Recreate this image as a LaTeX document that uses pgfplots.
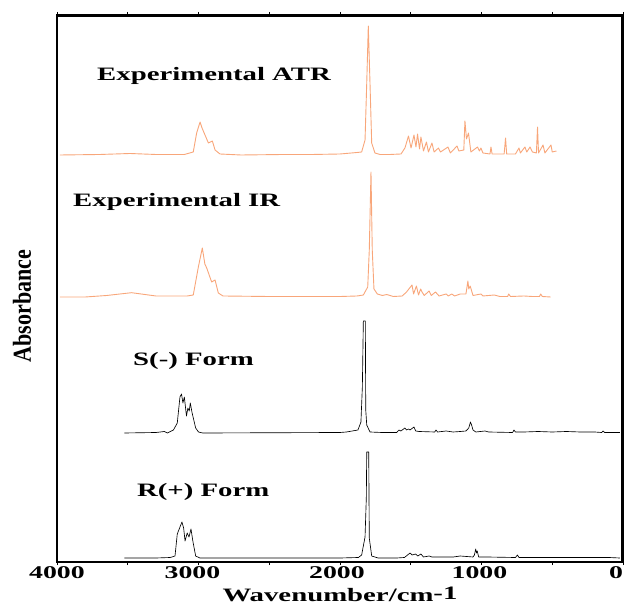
\documentclass[border=0pt]{standalone}
\usepackage{fontspec}
\setmainfont{Liberation Serif}
\usepackage{pgfplots}
\pgfplotsset{compat=1.18}
\definecolor{expOrange}{RGB}{248,166,122}

% stretched bold labels, as in the scanned figure
\newcommand{\lbl}[2][1.52]{\scalebox{#1}[1]{#2}}
% tick label, moved left by half of #1
\newcommand{\tl}[2]{\hbox to 0pt{\hss\lbl[1.55]{#2}\hss\hskip #1}}

\begin{document}
\begin{tikzpicture}
\begin{axis}[
  at={(0,0)}, anchor=south west,
  width=566bp, height=547bp, scale only axis,
  xmin=0, xmax=4000, x dir=reverse,
  ymin=0, ymax=547,
  ytick=\empty,
  xtick={0,1000,2000,3000,4000},
  xticklabels={\tl{14bp}{0},\tl{4bp}{1000},\tl{6bp}{2000},\tl{12bp}{3000},\tl{0bp}{4000}},
  minor xtick={500,1500,2500,3500},
  tick align=outside,
  major tick length=3bp, minor tick length=3bp,
  xtick style={black, line width=0.8bp},
  axis line style={black, line width=2.4bp},
  xticklabel style={font=\fontsize{18}{20}\selectfont\bfseries, inner sep=1bp},
  clip=false,
  every axis plot/.append style={line join=round},
]
% Experimental ATR, baseline offset 407
\addplot[expOrange, line width=0.9bp] table[row sep=\\, y expr=\thisrowno{1}+407] {
w h\\
3979 0\\ 3700 0.5\\ 3484 1.5\\ 3300 0.5\\ 3100 0.5\\ 3037 3\\ 3013 22\\
2989 33\\ 2975 27\\ 2954 20\\ 2930 12\\ 2902 14\\ 2883 5\\ 2848 1\\
2700 0\\ 2400 0.5\\ 2200 0.5\\ 2000 1\\ 1880 2.5\\ 1847 3\\ 1823 15\\
1811 72\\ 1800 129\\ 1788 72\\ 1776 12\\ 1753 2\\ 1717 0.5\\ 1650 0.5\\
1569 1\\ 1541 7\\ 1516 19\\ 1498 7\\ 1477 20\\ 1463 8\\ 1452 21\\ 1438 6\\
1428 18\\ 1410 4\\ 1389 13\\ 1375 3\\ 1350 12\\ 1335 3\\ 1304 7\\ 1290 3\\
1258 6\\ 1237 8\\ 1220 2\\ 1173 9\\ 1160 4\\ 1125 5\\ 1117 34\\ 1106 16\\
1092 22\\ 1075 3\\ 1028 8\\ 1015 4\\ 1004 7\\ 990 2\\ 940 1\\ 933 8\\
925 1\\ 840 1\\ 830 17\\ 822 1\\ 760 1\\ 735 7\\ 725 2\\ 693 8\\ 680 3\\
657 8\\ 640 3\\ 612 2\\ 604 28\\ 597 2\\ 565 10\\ 552 2\\ 509 10\\ 500 3\\
470 4\\
};
% Experimental IR, baseline offset 265
\addplot[expOrange, line width=0.9bp] table[row sep=\\, y expr=\thisrowno{1}+265] {
w h\\
3979 0\\ 3800 0\\ 3650 1.5\\ 3473 4.3\\ 3300 1\\ 3080 1\\ 3037 2\\ 3001 30\\
2973 49\\ 2955 33\\ 2942 29\\ 2907 15\\ 2883 17\\ 2860 4\\ 2827 1\\
2500 0.5\\ 2000 0.5\\ 1880 1\\ 1835 2\\ 1804 10\\ 1793 47\\ 1781 125\\
1772 47\\ 1760 8\\ 1736 3\\ 1700 1.5\\ 1670 2.5\\ 1623 0.5\\ 1560 1\\
1530 5\\ 1491 12\\ 1480 3\\ 1460 11\\ 1445 2\\ 1430 8\\ 1420 5\\ 1405 1.5\\
1370 6\\ 1355 1.5\\ 1325 5\\ 1300 1\\ 1250 3\\ 1235 1\\ 1210 3\\ 1190 1\\
1150 3\\ 1110 3\\ 1096 16\\ 1090 8\\ 1080 11\\ 1060 1.5\\ 1004 3\\ 990 1\\
910 2\\ 870 0.5\\ 815 0.5\\ 808 3\\ 795 0.5\\ 700 1\\ 640 0.5\\ 590 0.5\\
582 3\\ 570 0.5\\ 512 0\\
};
% S(-) form, baseline offset 129
\addplot[black, line width=0.65bp] table[row sep=\\, y expr=\thisrowno{1}+129] {
w h\\
3524 0\\ 3300 0.5\\ 3241 1.5\\ 3220 0\\ 3177 3\\ 3150 10\\ 3131 36\\
3120 39\\ 3110 30\\ 3100 36\\ 3085 17\\ 3075 25\\ 3065 22\\ 3058 30\\
3045 20\\ 3035 14\\ 3020 5\\ 3000 1\\ 2970 0\\ 2000 0.5\\ 1954 1\\
1873 3\\ 1852 11\\ 1842 46\\ 1835 112\\ 1821 112\\ 1818 23\\ 1811 8\\
1788 1\\ 1703 0.5\\ 1600 0.5\\ 1583 3\\ 1570 2\\ 1541 5\\ 1530 3\\ 1516 4\\
1505 3\\ 1477 6\\ 1465 2\\ 1440 1.5\\ 1330 1\\ 1322 3\\ 1310 1\\ 1250 2\\
1200 1\\ 1150 1.5\\ 1110 2\\ 1090 5\\ 1078 11\\ 1070 8\\ 1060 3\\ 1040 1\\
975 2\\ 950 1\\ 780 0.5\\ 771 3\\ 760 1\\ 700 1\\ 600 1.5\\ 500 1\\
400 1.5\\ 300 1\\ 200 1\\ 150 0.5\\ 141 2\\ 130 0.5\\ 22 0.5\\
};
% R(+) form, baseline offset 4
\addplot[black, line width=0.65bp] table[row sep=\\, y expr=\thisrowno{1}+4] {
w h\\
3524 0\\ 3300 0\\ 3200 0.5\\ 3166 2\\ 3150 24\\ 3117 36\\ 3105 30\\
3095 17\\ 3080 25\\ 3067 21\\ 3053 29\\ 3040 17\\ 3020 2\\ 2990 0\\
2000 0\\ 1870 0.5\\ 1847 3\\ 1823 21\\ 1814 60\\ 1811 106\\ 1797 106\\
1793 20\\ 1776 2\\ 1731 0\\ 1600 0\\ 1545 0.5\\ 1531 2\\ 1505 5\\ 1490 3\\
1466 4\\ 1450 2\\ 1428 4\\ 1410 1\\ 1370 2\\ 1350 1\\ 1290 1\\ 1200 1\\
1150 2\\ 1060 1\\ 1050 3\\ 1041 9\\ 1035 5\\ 1030 7\\ 1020 1\\ 960 1\\
760 0.5\\ 746 3\\ 735 0.5\\ 600 0.5\\ 500 0.5\\ 100 0.5\\ 22 0\\
};
\node[anchor=base west, inner sep=0, font=\fontsize{19}{22}\selectfont\bfseries]
  at (axis cs:3717,481) {\lbl{Experimental ATR}};
\node[anchor=base west, inner sep=0, font=\fontsize{19}{22}\selectfont\bfseries]
  at (axis cs:3887,355) {\lbl{Experimental IR}};
\node[anchor=base west, inner sep=0, font=\fontsize{19}{22}\selectfont\bfseries]
  at (axis cs:3463,196) {\lbl{S(-) Form}};
\node[anchor=base west, inner sep=0, font=\fontsize{19}{22}\selectfont\bfseries]
  at (axis cs:3435,65) {\lbl{R(+) Form}};
\node[anchor=base, inner sep=0, font=\fontsize{19}{22}\selectfont\bfseries]
  at ([yshift=-39bp]rel axis cs:0.5,0) {\lbl{Wavenumber/cm\raisebox{2bp}{-1}}};
\node[rotate=90, inner sep=0, font=\fontsize{26}{28}\selectfont\bfseries]
  at ([xshift=-35bp]rel axis cs:0,0.468) {\scalebox{0.85}[1]{Absorbance}};
\end{axis}
% top and right sides of the frame, as filled bands
\fill[black] (0,544.8bp) rectangle (566.4bp,547.4bp);
\fill[black] (563.8bp,0) rectangle (566.4bp,547.4bp);
% margins of the figure around the plot area
\path (-57bp,-43bp) (570bp,562bp);
\end{tikzpicture}
\end{document}
